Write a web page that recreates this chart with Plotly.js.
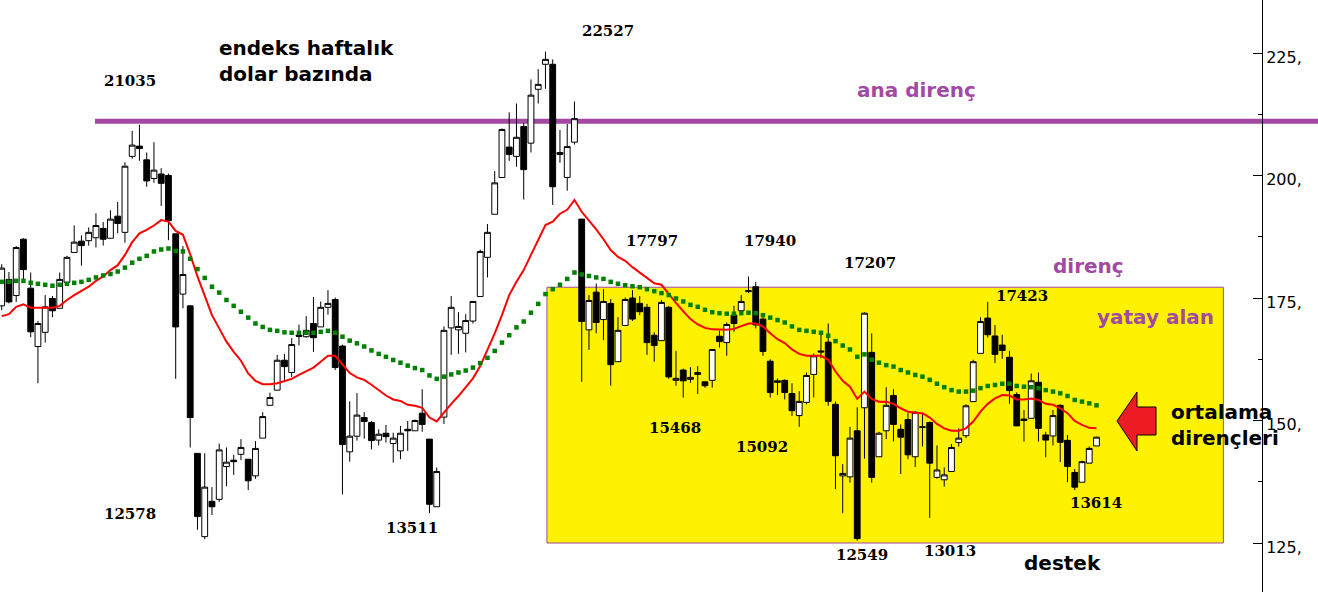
<!DOCTYPE html>
<html><head><meta charset="utf-8">
<script src="https://cdn.plot.ly/plotly-3.0.1.min.js"></script>
<style>html,body{margin:0;padding:0;background:#fff;overflow:hidden;} #chart{width:1318px;height:592px;}</style>
</head><body><div id="chart"></div>
<script>
// weekly candles (index dollar based)
const openP = [
173.4,178.8,175.5,187.0,177.0,165.1,168.0,174.9,172.9,178.2,
184.3,186.6,186.7,187.3,189.2,187.2,191.7,188.4,203.9,206.0,
203.2,199.4,200.3,200.0,188.1,175.8,173.4,143.3,126.3,133.5,
133.9,140.6,141.9,143.1,142.1,138.7,146.4,153.1,156.2,162.3,
159.8,167.4,167.1,169.8,169.1,173.1,174.7,165.2,143.6,146.8,
150.6,149.6,146.0,147.4,145.3,143.8,148.2,147.9,151.5,146.2,
132.4,150.7,168.9,168.5,167.8,170.3,175.3,183.3,192.1,199.6,
205.8,203.9,210.0,206.6,217.6,222.7,222.7,204.3,199.6,206.8,
191.1,168.5,176.2,170.6,173.9,162.0,169.4,175.0,173.9,173.1,
167.4,166.3,173.1,158.2,160.3,158.4,159.4,157.9,158.2,167.2,
165.9,171.5,172.4,176.3,177.3,170.7,162.1,158.1,158.2,155.5,
151.0,153.7,159.4,164.2,166.0,153.3,138.7,138.5,147.9,152.6,
163.9,142.6,147.9,155.1,148.2,150.2,142.6,148.6,149.6,138.4,
137.9,139.6,145.5,146.9,153.85,163.7,170.9,167.25,165.4,162.9,
155.3,150.3,150.45,157.8,147.05,146.85,153.1,145.95,139.4,137.4,
141.3,144.8];
const highP = [
181.9,180.3,185.6,187.2,180.2,170.3,175.6,175.4,180.2,183.6,
189.8,187.8,189.4,192.3,190.5,192.9,194.6,202.7,209.1,210.35,
204.7,206.8,201.5,200.4,188.1,185.6,173.5,143.3,143.3,136.4,
145.3,144.5,143.0,146.2,142.1,145.8,151.7,155.7,163.4,163.6,
166.8,169.6,171.3,175.2,174.3,176.6,175.1,165.5,153.9,155.6,
151.7,149.9,148.2,149.1,147.5,148.9,149.9,150.2,156.4,146.2,
140.4,169.2,175.4,172.1,171.7,174.4,184.9,190.1,200.9,209.6,
212.9,214.7,210.7,219.6,221.7,225.27,223.7,209.3,210.5,215.1,
191.1,175.6,177.97,176.8,174.8,171.1,175.1,176.6,175.4,173.8,
168.0,174.6,173.4,164.2,160.6,160.9,161.1,157.9,164.5,168.3,
170.0,173.4,175.6,179.4,178.3,171.1,162.5,158.6,158.4,157.6,
156.0,159.8,163.7,167.6,169.8,153.9,141.1,148.7,152.7,172.07,
167.8,147.7,156.8,156.4,149.2,151.5,151.9,151.5,149.8,144.9,
140.4,145.2,148.4,153.3,162.4,171.1,174.23,169.5,167.5,164.2,
155.75,152.15,159.6,159.8,147.7,152.15,153.3,147.05,140.1,141.8,
144.7,146.7];
const lowP = [
172.5,173.9,174.2,178.8,167.0,157.6,165.9,171.1,172.9,178.2,
184.3,181.6,185.7,185.3,185.7,187.2,188.2,186.3,203.4,203.0,
197.7,198.5,193.8,186.8,158.5,172.9,144.5,127.7,125.78,130.7,
133.4,136.6,138.9,141.9,135.8,138.1,146.4,153.1,156.2,158.3,
158.9,165.3,166.9,164.0,169.1,171.6,160.3,134.9,141.6,145.9,
146.3,144.1,144.9,145.5,141.4,142.1,143.8,147.9,147.7,131.1,
132.4,149.3,163.4,163.6,163.9,169.8,175.3,179.2,192.1,199.6,
203.0,201.8,195.1,204.7,214.7,217.7,194.0,202.6,196.9,206.3,
157.9,164.4,167.8,166.4,157.1,162.0,169.4,170.3,171.5,163.4,
162.0,166.3,158.5,157.1,154.68,157.7,155.4,156.7,156.7,164.9,
163.2,168.1,172.4,176.0,168.8,163.2,154.7,155.2,154.3,150.92,
148.7,153.3,154.7,162.7,153.0,136.0,131.1,137.3,125.49,142.2,
137.3,142.6,146.2,145.7,139.1,142.1,140.5,144.7,130.13,138.1,
136.5,139.6,144.7,146.4,153.85,163.7,166.9,161.7,162.6,153.4,
148.9,145.7,150.45,145.7,142.5,144.9,141.5,137.4,135.8,137.4,
141.3,144.8];
const closeP = [
181.1,174.2,185.3,180.8,168.1,169.8,173.2,172.4,178.8,183.3,
186.4,185.7,188.4,189.8,187.0,191.1,190.2,201.9,206.2,205.5,
198.9,201.1,198.4,190.8,169.1,179.8,150.6,130.4,136.4,132.4,
144.0,141.5,141.6,144.5,137.7,144.3,150.8,154.7,162.3,161.0,
165.5,167.2,168.4,166.9,173.1,173.9,160.8,145.1,146.8,151.1,
149.8,145.9,147.2,146.7,146.4,147.4,147.9,150.0,149.2,132.9,
139.6,168.4,173.1,169.2,170.4,174.3,184.5,188.4,198.5,209.4,
204.3,207.8,201.2,216.4,218.6,223.7,197.7,204.7,205.9,211.6,
170.2,174.5,170.0,174.3,161.4,168.4,174.7,170.7,172.2,165.9,
165.3,174.1,158.9,158.6,158.1,158.8,159.8,157.1,164.5,166.1,
169.6,169.8,174.3,176.5,169.5,164.1,155.7,157.8,155.7,152.0,
153.9,159.2,163.2,164.0,153.9,142.8,139.2,146.4,125.9,171.9,
138.4,147.4,153.1,149.2,146.6,143.0,151.7,148.7,141.3,139.9,
138.9,144.5,146.4,153.0,162.0,170.2,167.5,163.5,164.3,156.1,
148.9,150.0,158.1,148.4,146.0,151.0,145.55,140.6,136.4,141.6,
144.3,146.6];
// red moving average
const maRed = [
171.3,171.7,173.2,173.7,173.0,173.0,173.0,173.0,173.4,174.6,
175.6,176.5,177.3,178.5,179.4,180.7,181.7,183.8,186.4,188.2,
188.9,189.8,190.9,190.6,188.7,187.9,183.9,179.4,175.6,171.5,
168.8,166.1,164.0,162.2,159.6,158.1,157.4,157.4,157.6,158.1,
158.5,159.3,160.0,160.8,162.0,163.2,163.2,161.4,159.7,158.8,
158.3,157.3,156.2,155.1,154.3,154.0,153.2,153.0,152.6,150.6,
149.8,151.7,153.4,155.0,156.7,158.6,161.1,164.3,167.8,171.5,
175.6,178.3,180.7,183.8,186.8,189.9,190.6,192.2,193.0,195.0,
192.6,190.9,189.0,187.0,184.8,183.4,182.6,181.3,180.2,179.0,
178.0,177.7,175.8,174.0,172.3,170.7,169.6,168.9,168.6,168.5,
168.5,168.7,169.3,169.8,169.8,169.2,167.8,166.6,165.8,164.5,
163.6,163.2,163.2,163.2,162.4,160.0,158.1,156.9,154.4,155.9,
154.4,153.85,153.85,153.4,152.5,151.8,151.6,151.5,150.6,149.3,
148.4,147.9,147.9,148.4,149.8,151.8,153.4,154.5,155.2,155.1,
154.3,154.3,154.5,154.2,153.4,153.2,152.5,151.5,149.9,149.1,
148.5,148.4];
// green dotted moving average
const maGreen = [
178.3,178.3,178.5,178.5,178.1,177.9,177.7,177.5,177.7,177.9,
178.1,178.3,178.7,179.2,179.6,179.9,180.4,181.2,182.2,183.0,
183.6,184.5,184.9,185.1,184.6,184.5,183.0,180.9,179.1,177.3,
176.1,174.6,173.4,172.2,171.0,169.8,169.1,168.5,168.3,168.0,
167.9,167.9,167.9,167.9,168.1,168.3,167.9,167.1,166.3,165.75,
165.1,164.3,163.6,163.0,162.35,161.8,161.2,160.7,160.3,159.2,
158.5,158.95,159.4,159.8,160.2,160.8,161.7,162.8,164.2,165.9,
167.4,169.0,170.2,172.0,173.8,175.8,176.8,177.7,178.9,180.2,
179.8,179.5,179.2,178.9,178.3,177.9,177.6,177.4,177.2,176.8,
176.4,176.0,175.6,174.9,174.3,173.6,173.2,172.6,172.1,171.9,
171.8,171.8,171.9,172.0,171.9,171.5,171.0,170.5,170.0,169.2,
168.5,168.3,168.1,167.9,167.3,166.2,165.3,164.5,163.0,163.5,
162.4,161.8,161.3,161.0,160.3,159.8,159.3,158.95,158.3,157.5,
156.8,156.2,155.9,155.9,156.1,156.6,157.05,157.25,157.5,157.5,
157.05,156.9,156.8,156.6,156.2,155.9,155.55,155.0,154.2,153.85,
153.5,153.1];
const weekIdx = openP.map((_, i) => i);

const tickVals = [125, 150, 175, 200, 225];
const tickText = ["125,", "150,", "175,", "200,", "225,"];
const minorVals = [137.5, 162.5, 187.5, 212.5];

const numLabels = ["21035","22527","12578","13511","17797","17940","17207","17423","15468","15092","12549","13013","13614"];

// layout helpers (pixel -> paper)
const PW = 1262, PH = 592;
const px = x => x / PW;
const py = y => 1 - y / PH;

const numPos = [[130,81],[608,31],[130,514],[412,528],[652,241],[770,241],[870,263],[1022,296],[675,428],[762,447],[862,555],[950,551],[1096,503]];

const purple = '#A349A4';
const annotations = numLabels.map((t, k) => ({
  text: t, xref: 'paper', yref: 'paper', x: px(numPos[k][0]), y: py(numPos[k][1]),
  xanchor: 'center', yanchor: 'middle', showarrow: false,
  font: {family: 'DejaVu Serif', size: 15, color: '#000', weight: 700}
}));
const bold = (size, color) => ({family: 'DejaVu Sans', size: size, color: color, weight: 700});
annotations.push(
  {text: 'endeks haftalık<br>dolar bazında', xref:'paper', yref:'paper', x: px(217), y: py(61), xanchor:'left', yanchor:'middle', align:'left', showarrow:false, font: bold(20,'#000')},
  {text: 'ortalama<br>dirençleri', xref:'paper', yref:'paper', x: px(1169), y: py(425), xanchor:'left', yanchor:'middle', align:'left', showarrow:false, font: bold(20,'#000')},
  {text: 'ana direnç', xref:'paper', yref:'paper', x: px(916), y: py(90), xanchor:'center', yanchor:'middle', showarrow:false, font: bold(20,purple)},
  {text: 'direnç', xref:'paper', yref:'paper', x: px(1088), y: py(266), xanchor:'center', yanchor:'middle', showarrow:false, font: bold(20,purple)},
  {text: 'yatay alan', xref:'paper', yref:'paper', x: px(1155), y: py(317), xanchor:'center', yanchor:'middle', showarrow:false, font: bold(20,purple)},
  {text: 'destek', xref:'paper', yref:'paper', x: px(1062), y: py(563), xanchor:'center', yanchor:'middle', showarrow:false, font: bold(20,'#000')}
);

const arrowPts = [[1117,421],[1137,392],[1137,407],[1156,407],[1156,435],[1137,435],[1137,451]];
const arrowPath = 'M' + arrowPts.map(p => px(p[0]).toFixed(5) + ',' + py(p[1]).toFixed(5)).join(' L') + ' Z';

const shapes = [
  {type:'rect', xref:'x', yref:'y', x0: 75.2, x1: 168.5, y0: 125.0, y1: 177.2, fillcolor:'#FFF200', line:{color: purple, width:1}, layer:'below'},
  {type:'line', xref:'paper', yref:'paper', x0: px(95), x1: px(1318), y0: py(121.3), y1: py(121.3), line:{color: purple, width:5}, layer:'below'},
  {type:'path', xref:'paper', yref:'paper', path: arrowPath, fillcolor:'#ED1C24', line:{color:'#000', width:1}, layer:'above'}
];

const traces = [
  {type:'candlestick', x: weekIdx, open: openP, high: highP, low: lowP, close: closeP,
   increasing:{line:{color:'#000', width:1}, fillcolor:'#ffffff'},
   decreasing:{line:{color:'#000', width:1}, fillcolor:'#000000'},
   whiskerwidth: 0, hoverinfo:'skip', showlegend:false},
  {type:'scatter', mode:'lines', x: weekIdx, y: maRed, line:{color:'#ff0000', width:2}, hoverinfo:'skip', showlegend:false},
  {type:'scatter', mode:'markers', x: weekIdx, y: maGreen, marker:{symbol:'square', size:4.5, color:'#008000'}, hoverinfo:'skip', showlegend:false}
];

const layout = {
  width: 1318, height: 592,
  margin: {l:0, r:56, t:0, b:0, pad:0},
  paper_bgcolor:'#ffffff', plot_bgcolor:'#ffffff',
  showlegend:false,
  boxgap: 0.2, boxgroupgap: 0, boxmode: 'overlay',
  xaxis: {range:[-0.2345, 173.83], visible:false, rangeslider:{visible:false}, fixedrange:true},
  yaxis: {range:[115.0, 235.82], side:'right', showline:true, linecolor:'#000', linewidth:1,
          ticks:'inside', ticklen:9, tickwidth:1, tickcolor:'#000',
          tickmode:'array', tickvals: tickVals, ticktext: tickText,
          ticklabelshift: 4,
          tickfont:{family:'DejaVu Sans', size:16, color:'#000'},
          minor:{tickmode:'array', tickvals: minorVals, ticks:'inside', ticklen:4, tickcolor:'#000', showgrid:false},
          showgrid:false, zeroline:false, fixedrange:true},
  shapes: shapes,
  annotations: annotations
};

Plotly.newPlot('chart', traces, layout, {staticPlot:true, displayModeBar:false});
</script>
</body></html>
